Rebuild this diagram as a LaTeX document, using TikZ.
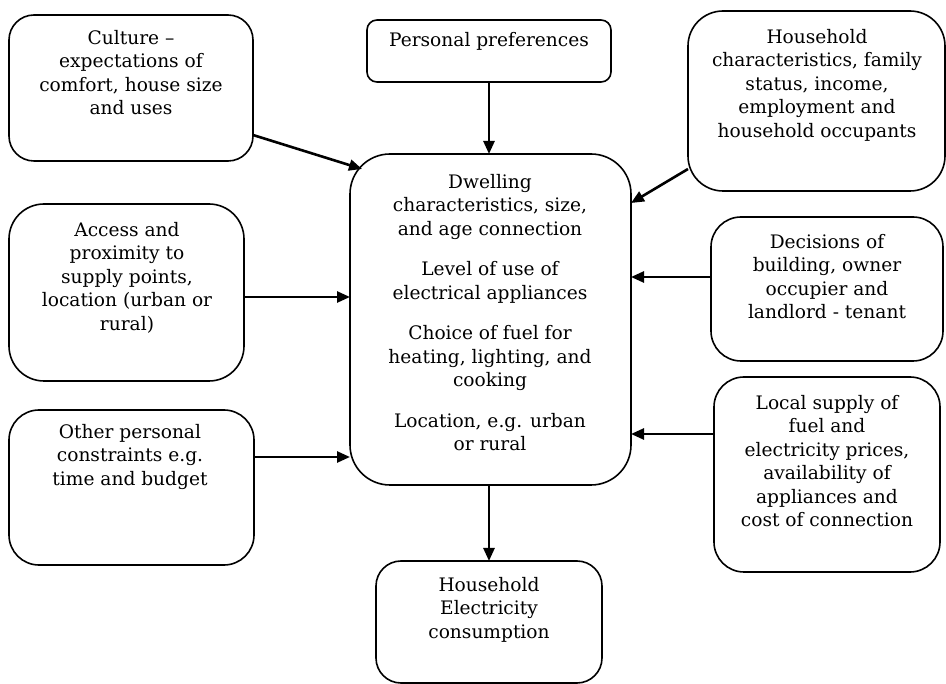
\documentclass[tikz,border=0pt]{standalone}
\usepackage{fontspec}
\setmainfont{DejaVu Serif}
\usetikzlibrary{arrows.meta}
\begin{document}
\begin{tikzpicture}[x=1pt,y=-1pt,
  box/.style={draw=black,line width=1.6pt,rectangle,inner sep=0pt,outer sep=0pt},
  txt/.style={anchor=north,align=center,inner sep=0pt,font=\fontsize{18.6}{23.5}\selectfont},
  arr/.style={line width=2.6pt,-{Triangle[length=13pt,width=11pt]}}]
\useasboundingbox[fill=white] (0,0) rectangle (946,684);
% boxes
\node[box,minimum width=244pt,minimum height=146pt,rounded corners=25pt] (culture) at (131,88) {};
\node[box,minimum width=244pt,minimum height=62pt,rounded corners=10pt] (pers) at (489,51) {};
\node[box,minimum width=257pt,minimum height=180pt,rounded corners=35pt] (hhc) at (816.5,101) {};
\node[box,minimum width=281pt,minimum height=331pt,rounded corners=40pt] (central) at (490.5,319.5) {};
\node[box,minimum width=235pt,minimum height=177pt,rounded corners=35pt] (access) at (126.5,292.5) {};
\node[box,minimum width=232pt,minimum height=144pt,rounded corners=30pt] (decis) at (827,289) {};
\node[box,minimum width=245pt,minimum height=155pt,rounded corners=30pt] (other) at (131.5,487.5) {};
\node[box,minimum width=226pt,minimum height=195pt,rounded corners=30pt] (local) at (827,474.5) {};
\node[box,minimum width=226pt,minimum height=122pt,rounded corners=25pt] (hec) at (489,622) {};
% texts
\node[txt] (tculture) at (131,30) {Culture --\\expectations of\\comfort, house size\\and uses};
\node[txt] (tpers) at (489,32) {Personal preferences};
\node[txt] (thhc) at (817,29) {Household\\characteristics, family\\status, income,\\employment and\\household occupants};
\node[txt] (tcentral) at (490,174) {Dwelling\\characteristics, size,\\and age connection\\[17pt]Level of use of\\electrical appliances\\[17pt]Choice of fuel for\\heating, lighting, and\\cooking\\[17pt]Location, e.g. urban\\or rural};
\node[txt] (taccess) at (127,222) {Access and\\proximity to\\supply points,\\location (urban or\\rural)};
\node[txt] (tdecis) at (827,234) {Decisions of\\building, owner\\occupier and\\landlord - tenant};
\node[txt] (tother) at (130,424) {Other personal\\constraints e.g.\\time and budget};
\node[txt] (tlocal) at (827,395) {Local supply of\\fuel and\\electricity prices,\\availability of\\appliances and\\cost of connection};
\node[txt] (thec) at (489,577) {Household\\Electricity\\consumption};
% connector end points
\coordinate (aS) at ([yshift=-4.5pt]access.east);
\coordinate (dS) at ([yshift=12pt]decis.west);
\coordinate (oS) at ([yshift=30.5pt]other.east);
\coordinate (lS) at ([yshift=40.5pt]local.west);
% connectors
\draw[arr] ([yshift=-47pt]culture.east) -- ([xshift=12pt,yshift=-15pt]central.north west);
\draw[arr] (pers.south) -- (pers.south |- central.north);
\draw[arr] ([yshift=-68pt]hhc.west) -- ([yshift=-49pt]central.north east);
\draw[arr] (aS) -- (central.west |- aS);
\draw[arr] (dS) -- (central.east |- dS);
\draw[arr] (oS) -- (central.west |- oS);
\draw[arr] (lS) -- (central.east |- lS);
\draw[arr] (hec.north |- central.south) -- (hec.north);
\end{tikzpicture}
\end{document}
